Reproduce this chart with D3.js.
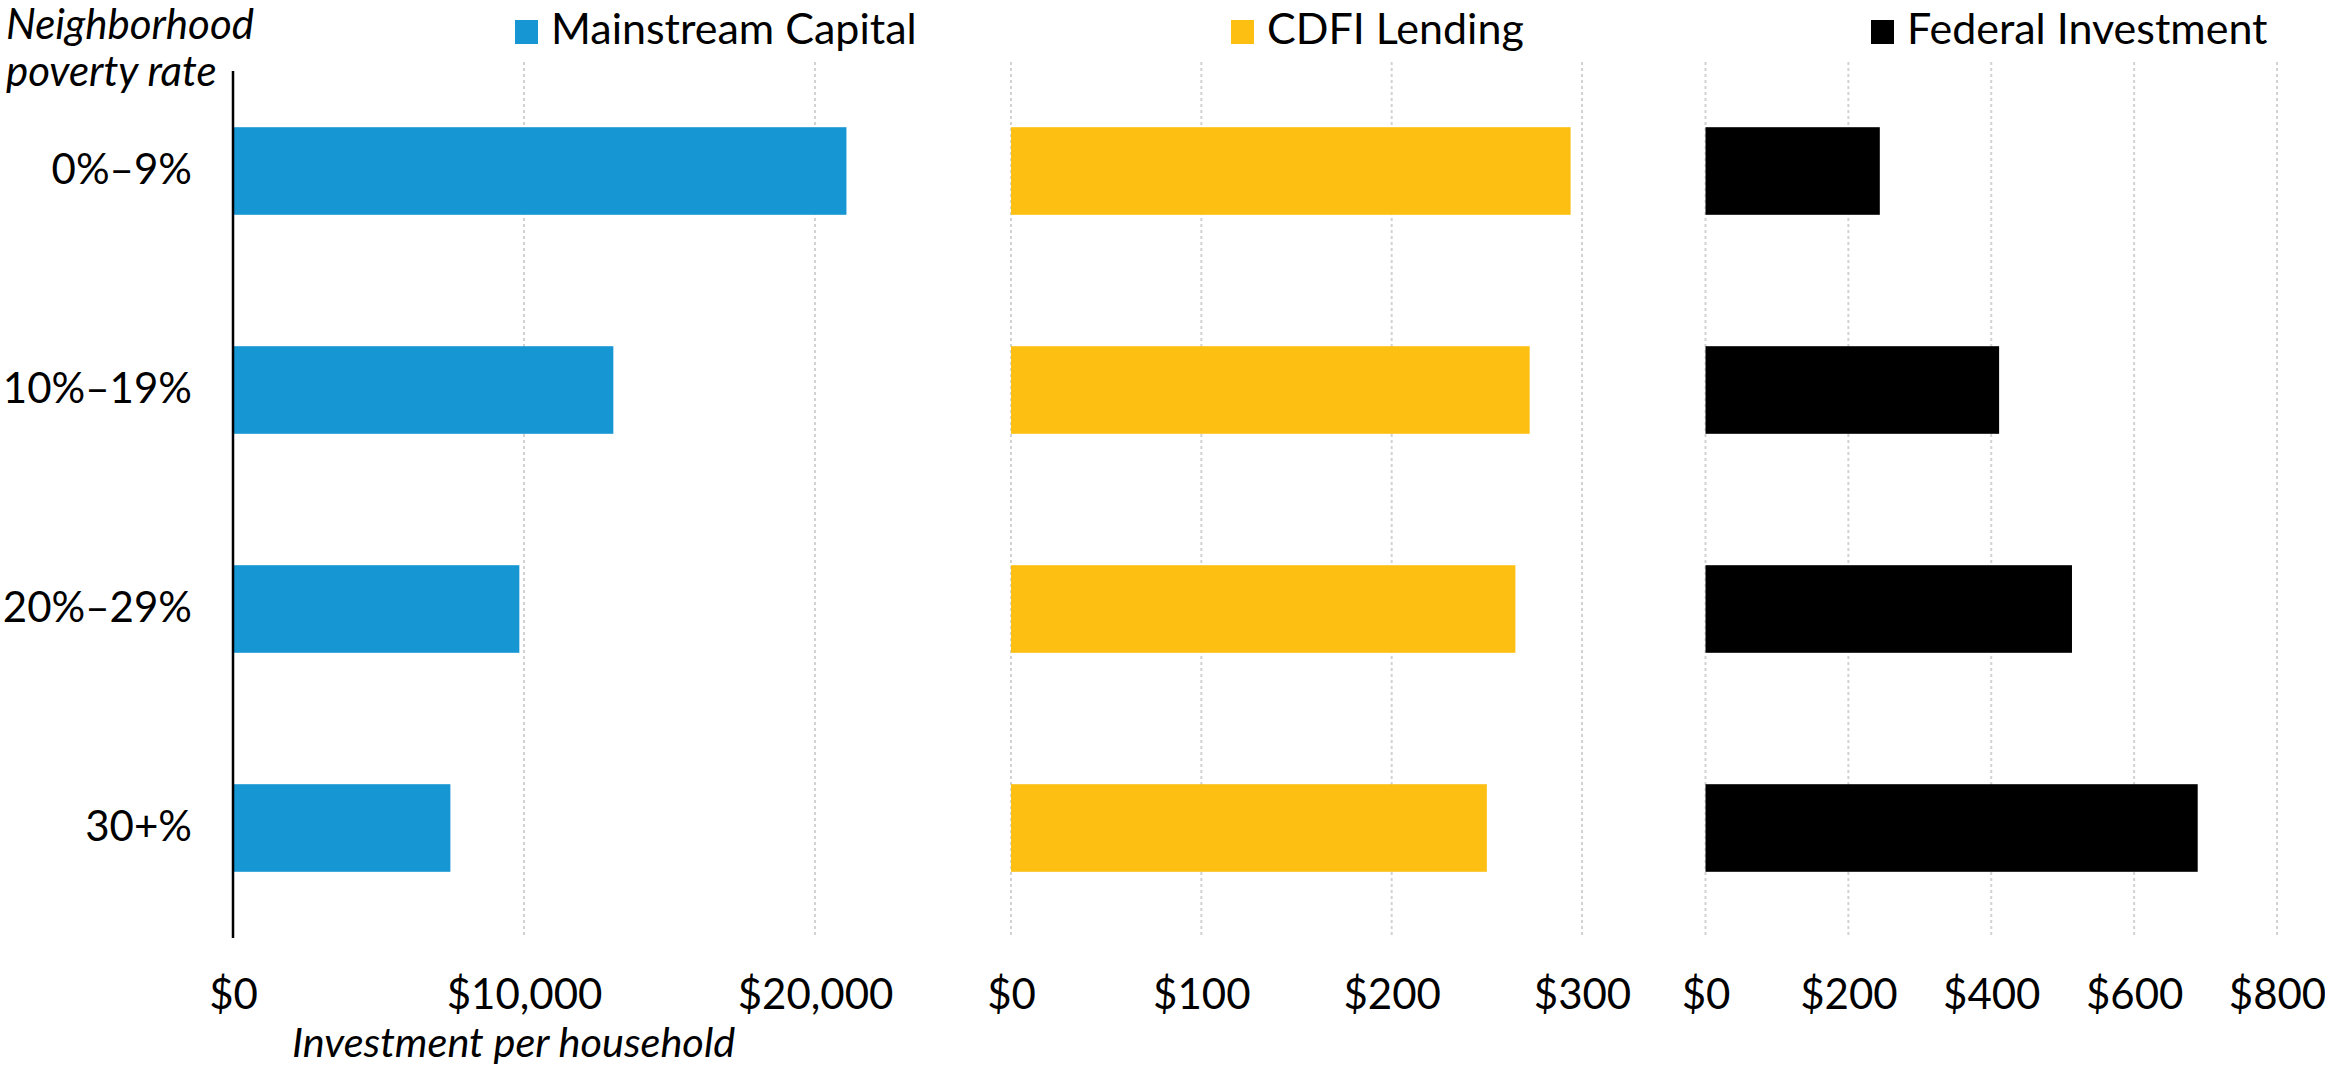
<!DOCTYPE html>
<html>
<head>
<meta charset="utf-8">
<script src="https://cdn.jsdelivr.net/npm/d3@7"></script>
<style>
  body { margin: 0; background: #fff; }
  text { font-family: Lato, "Noto Sans", sans-serif; fill: #000; }
</style>
</head>
<body>
<svg id="chart" width="2325" height="1068"></svg>
<script>
// data
const categories = ["0%–9%", "10%–19%", "20%–29%", "30+%"];
const mainstream = [21080, 13070, 9840, 7470];
const cdfi = [294, 272.5, 265, 250];
const federal = [244, 411, 513, 689];
const seriesNames = ["Mainstream Capital", "CDFI Lending", "Federal Investment"];
const seriesColors = ["#1696d2", "#fdbf11", "#000000"];
const ticks1 = [0, 10000, 20000];
const ticks2 = [0, 100, 200, 300];
const ticks3 = [0, 200, 400, 600, 800];

const svg = d3.select("#chart");

const y = d3.scaleBand().domain(categories).range([61.5, 937.5])
  .paddingInner(0.6).paddingOuter(0.3);

const panels = [
  { values: mainstream, ticks: ticks1, x: d3.scaleLinear().domain([0, 20000]).range([233, 815]), grid0: false, legendX: 515 },
  { values: cdfi, ticks: ticks2, x: d3.scaleLinear().domain([0, 300]).range([1011, 1582]), grid0: true, legendX: 1231 },
  { values: federal, ticks: ticks3, x: d3.scaleLinear().domain([0, 800]).range([1705.5, 2277]), grid0: true, legendX: 1871 }
];

const fmt = d => "$" + d3.format(",")(d);

panels.forEach((p, i) => {
  // dotted gridlines
  svg.append("g").selectAll("line")
    .data(p.ticks.filter(t => p.grid0 || t !== 0))
    .join("line")
    .attr("x1", d => p.x(d)).attr("x2", d => p.x(d))
    .attr("y1", 62).attr("y2", 938)
    .attr("stroke", "#d2d2d2").attr("stroke-width", 2)
    .attr("stroke-dasharray", "3,3");

  // bars
  svg.append("g").selectAll("rect")
    .data(p.values)
    .join("rect")
    .attr("x", p.x(0))
    .attr("y", (d, j) => y(categories[j]))
    .attr("width", d => p.x(d) - p.x(0))
    .attr("height", y.bandwidth())
    .attr("fill", seriesColors[i]);

  // tick labels
  const ax = svg.append("g").attr("transform", "translate(0,979)")
    .call(d3.axisBottom(p.x).tickValues(p.ticks).tickFormat(fmt).tickSize(0).tickPadding(0));
  ax.select(".domain").remove();
  ax.selectAll("text").attr("font-size", 42).attr("dy", "0.72em")
    .style("font-family", "Lato, sans-serif");

  // legend
  const lg = svg.append("g").attr("transform", `translate(${p.legendX},20)`);
  lg.append("rect").attr("width", 23).attr("height", 24).attr("fill", seriesColors[i]);
  lg.append("text").attr("x", 36).attr("y", 24).attr("font-size", 43)
    .text(seriesNames[i]);
});

// vertical axis line
svg.append("line").attr("x1", 233).attr("x2", 233).attr("y1", 71).attr("y2", 938)
  .attr("stroke", "#000").attr("stroke-width", 2.5);

// category labels
const yAxis = svg.append("g").attr("transform", "translate(192,0)")
  .call(d3.axisLeft(y).tickSize(0).tickPadding(0));
yAxis.select(".domain").remove();
yAxis.selectAll("text").attr("font-size", 42).style("font-family", "Lato, sans-serif");

// titles
svg.append("text").attr("x", 6).attr("y", 39).attr("font-size", 42)
  .attr("font-style", "italic").text("Neighborhood");
svg.append("text").attr("x", 6).attr("y", 86).attr("font-size", 42)
  .attr("font-style", "italic").text("poverty rate");
svg.append("text").attr("x", 292).attr("y", 1057).attr("font-size", 41.5)
  .attr("font-style", "italic").text("Investment per household");
</script>
</body>
</html>
